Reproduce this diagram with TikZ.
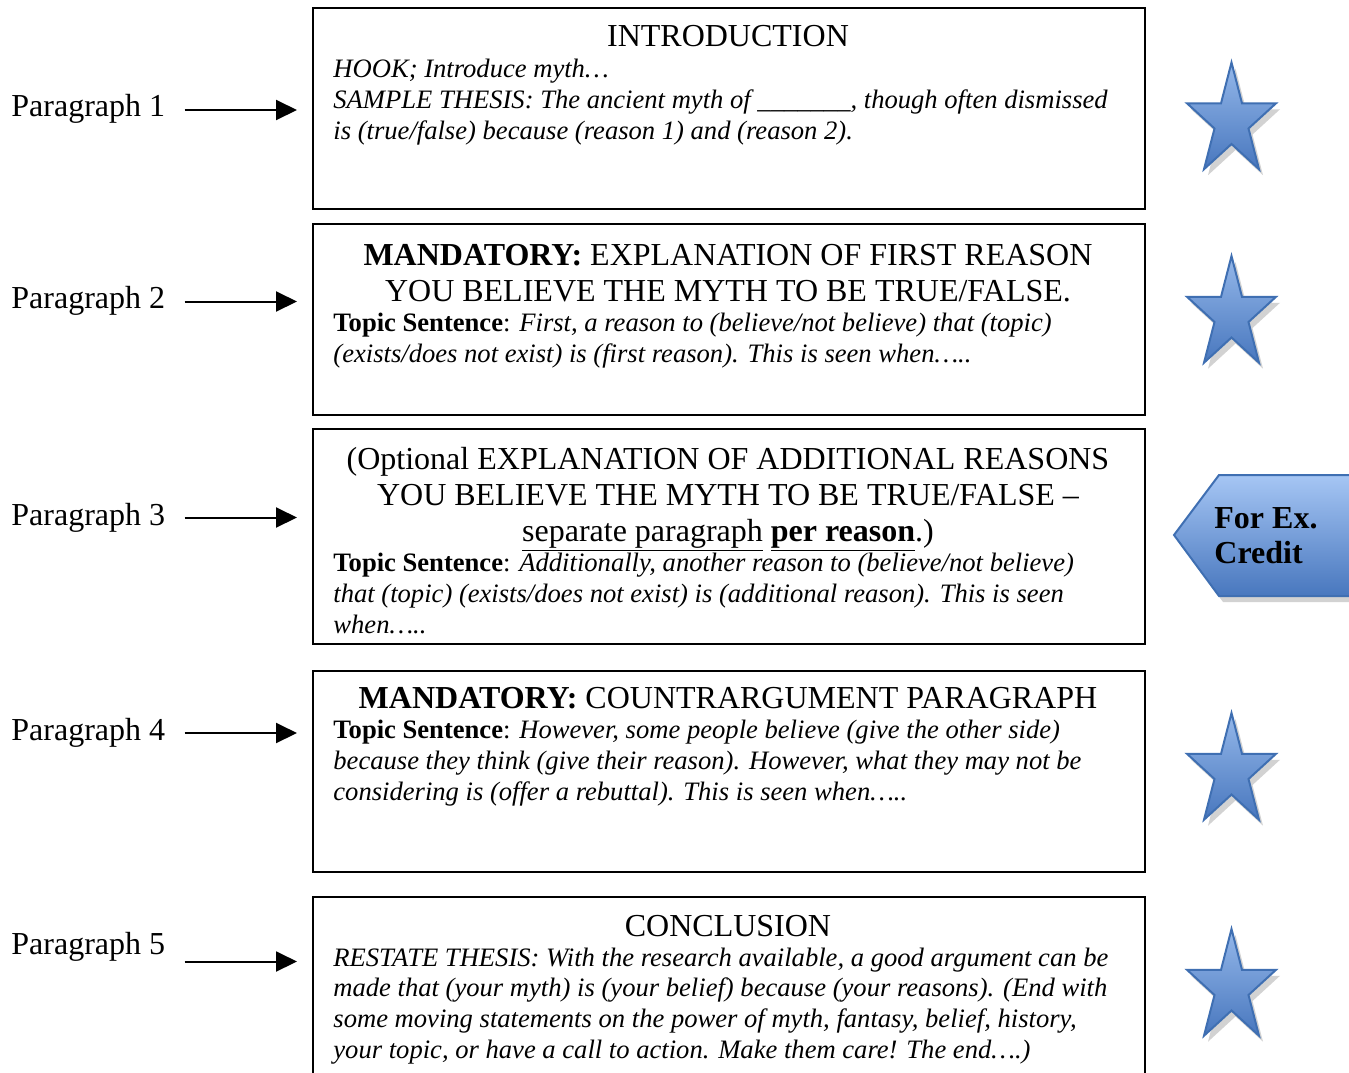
\documentclass[tikz,border=0pt]{standalone}
\usepackage{fontspec}
\setmainfont{Liberation Serif}
\usetikzlibrary{arrows.meta, positioning, shadows}

\definecolor{starlight}{HTML}{95B8EA}
\definecolor{stardark}{HTML}{4877BE}
\definecolor{starline}{HTML}{3F6FB2}
\definecolor{taglight}{HTML}{A6C6F4}

\begin{document}
\begin{tikzpicture}[x=0.5pt, y=-0.5pt,
    paralabel/.style={anchor=base west, inner sep=0pt, font=\fontsize{16}{18}\selectfont},
    outline/.style={draw, line width=1pt, anchor=north west, inner sep=0pt, minimum width=416pt},
    heading/.style={anchor=base, align=center, inner sep=0pt, font=\fontsize{16}{18}\selectfont},
    body/.style={anchor=base west, align=left, inner sep=0pt, font=\fontsize{13.3}{15.35}\selectfont},
    pointer/.style={-{Triangle[length=10.5pt, width=10pt]}, line width=1pt, shorten <=9.5pt},
    starfill/.style={draw=starline, line width=1pt, top color=starlight, bottom color=stardark,
      drop shadow={shadow xshift=2pt, shadow yshift=-3pt, opacity=0.35}},
    tagfill/.style={draw=starline, line width=1pt, top color=taglight, bottom color=stardark,
      drop shadow={shadow xshift=2pt, shadow yshift=-3pt, opacity=0.35}},
    tagtext/.style={anchor=base west, align=left, inner sep=0pt, font=\fontsize{16}{17.5}\selectfont\bfseries}
  ]
  \useasboundingbox (0,0) rectangle (1349,1072);
  \fill[white] (0,0) rectangle (1349,1072);

  % labels on the left
  \foreach \n/\ly/\ay in {1/116/110, 2/308/301.5, 3/525/517.5, 4/740/733, 5/954/961.5} {
    \node[paralabel] (p\n) at (11,\ly) {Paragraph \n};
    \coordinate (a\n) at (297,\ay);
    \draw[pointer] (p\n.east |- a\n) -- (a\n);
  }

  % the five boxes
  \node[outline, minimum height=100.5pt] (b1) at (312,7) {};
  \node[outline, minimum height=95.5pt] (b2) at (312,223) {};
  \node[outline, minimum height=107.5pt] (b3) at (312,428) {};
  \node[outline, minimum height=100.5pt] (b4) at (312,670) {};
  \node[outline, minimum height=100pt] (b5) at (312,896) {};

  % base of a text = baseline of its last line
  \node[heading] (h1) at (728,46.7) {INTRODUCTION};
  \node[body] (t1) at (333,139.3) {\itshape HOOK; Introduce myth…\\
    \itshape SAMPLE THESIS: The ancient myth of \_\_\_\_\_\_\_, though often dismissed\\
    \itshape is (true/false) because (reason 1) and (reason 2).};

  \node[heading] (h2) at (728,301.7) {\textbf{MANDATORY:} EXPLANATION OF FIRST REASON\\
    YOU BELIEVE THE MYTH TO BE TRUE/FALSE.};
  \node[body] (t2) at (333,362) {\textbf{Topic Sentence}: \textit{First, a reason to (believe/not believe) that (topic)}\\
    \itshape (exists/does not exist) is (first reason). This is seen when…..};

  \node[heading] (h3) at (728,541) {(Optional EXPLANATION OF ADDITIONAL REASONS\\
    YOU BELIEVE THE MYTH TO BE TRUE/FALSE –\\
    \underline{separate paragraph} \underline{\textbf{per reason}}.)};
  \node[body] (t3) at (333,633.3) {\textbf{Topic Sentence}: \textit{Additionally, another reason to (believe/not believe)}\\
    \itshape that (topic) (exists/does not exist) is (additional reason). This is seen\\
    \itshape when…..};

  \node[heading] (h4) at (728,708.3) {\textbf{MANDATORY:} COUNTRARGUMENT PARAGRAPH};
  \node[body] (t4) at (333,800) {\textbf{Topic Sentence}: \textit{However, some people believe (give the other side)}\\
    \itshape because they think (give their reason). However, what they may not be\\
    \itshape considering is (offer a rebuttal). This is seen when…..};

  \node[heading] (h5) at (728,936.7) {CONCLUSION};
  \node[body] (t5) at (333,1058.3) {\itshape RESTATE THESIS: With the research available, a good argument can be\\
    \itshape made that (your myth) is (your belief) because (your reasons). (End with\\
    \itshape some moving statements on the power of myth, fantasy, belief, history,\\
    \itshape your topic, or have a call to action. Make them care! The end….)};

  % stars and the extra credit tag
  \foreach \c in {121.5, 315, 772, 988}
    \draw[starfill, shift={(1231.5,\c)}] (0,-59) -- (10.5,-18.2) -- (44.5,-18.2) -- (17,7)
      -- (27.5,47.7) -- (0,22.5) -- (-27.5,47.7) -- (-17,7) -- (-44.5,-18.2) -- (-10.5,-18.2) -- cycle;

  \draw[tagfill] (1174,535) -- (1219,475) -- (1365,475) -- (1365,596) -- (1219,596) -- cycle;
  \node[tagtext] (credit) at (1214,563) {For Ex.\\Credit};
\end{tikzpicture}
\end{document}
